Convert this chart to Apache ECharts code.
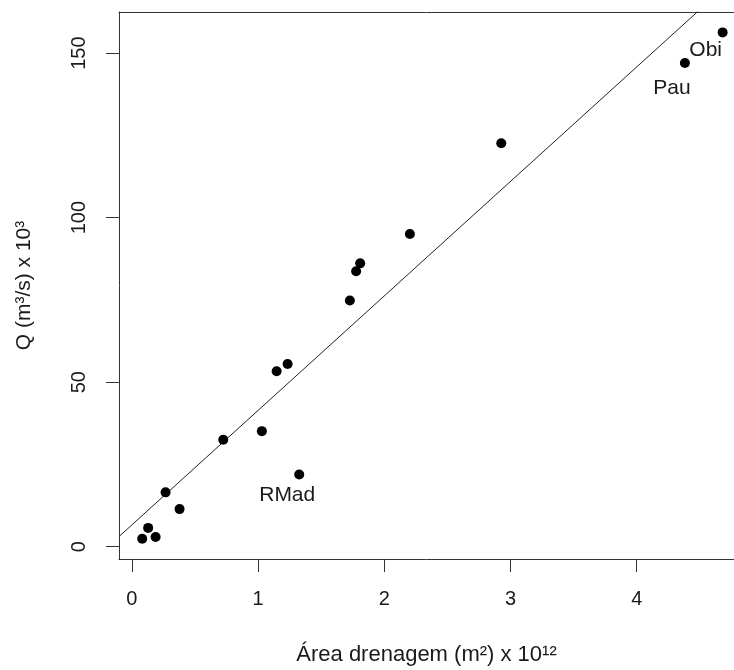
<!DOCTYPE html>
<html>
<head>
<meta charset="utf-8">
<script src="https://cdn.jsdelivr.net/npm/echarts@6/dist/echarts.min.js"></script>
<style>
html,body{margin:0;padding:0;background:#fff;overflow:hidden;}
#chart{width:734px;height:670px;}
</style>
</head>
<body>
<div id="chart"></div>
<script>
// Data
var areas = [0.082, 0.129, 0.188, 0.267, 0.378, 0.724, 1.030, 1.147, 1.234, 1.326, 1.727, 1.777, 1.809, 2.203, 2.927, 4.382, 4.681];
var flows = [2.4, 5.7, 2.9, 16.5, 11.4, 32.5, 35.1, 53.3, 55.5, 21.9, 74.8, 83.7, 86.1, 95.0, 122.6, 147.0, 156.3];
var pointNames = ['', '', '', '', '', '', '', '', '', 'RMad', '', '', '', '', '', 'Pau', 'Obi'];
var xTicks = [0, 1, 2, 3, 4];
var yTicks = [0, 50, 100, 150];
var fitIntercept = 6.6;
var fitSlope = 34.8;
// visible x range (the plot box of the original is cut off at the right edge of the image)
var xRange = [-0.102, 4.771];
var yRange = [-3.76, 162.5];

var labelOffsets = {
  'RMad': [-12, 21],
  'Pau': [-13, 25],
  'Obi': [-17, 18]
};

var FONT = 'Liberation Sans, Arial, sans-serif';
var TXT = '#1a1a1a';
var AX = '#333';

var points = areas.map(function (a, i) {
  var d = { value: [a, flows[i]] };
  var n = pointNames[i];
  if (n) {
    d.label = {
      show: true,
      formatter: n,
      position: 'inside',
      offset: labelOffsets[n],
      color: TXT,
      fontSize: 21,
      fontFamily: FONT
    };
  }
  return d;
});

var fitLine = xRange.map(function (x) { return [x, fitIntercept + fitSlope * x]; });

var chart = echarts.init(document.getElementById('chart'), null, { renderer: 'canvas' });
chart.setOption({
  animation: false,
  backgroundColor: '#fff',
  grid: {
    left: 119, top: 12, bottom: 111, right: 0,
    outerBoundsMode: 'none',
    containLabel: false,
    show: false
  },
  xAxis: [{
    type: 'value',
    position: 'bottom',
    min: xRange[0], max: xRange[1],
    name: 'Área drenagem (m²) x 10¹²',
    nameLocation: 'middle',
    nameGap: 85,
    nameTextStyle: { color: TXT, fontSize: 22, fontFamily: FONT },
    axisLine: { show: true, onZero: false, lineStyle: { color: AX, width: 1 } },
    splitLine: { show: false },
    axisTick: { show: true, inside: false, length: 13, customValues: xTicks, lineStyle: { color: AX, width: 1 } },
    axisLabel: { customValues: xTicks, color: TXT, fontSize: 20, fontFamily: FONT, margin: 30 }
  }, {
    type: 'value',
    position: 'top',
    min: xRange[0], max: xRange[1],
    axisLine: { show: true, onZero: false, lineStyle: { color: AX, width: 1 } },
    axisTick: { show: false },
    axisLabel: { show: false },
    splitLine: { show: false }
  }],
  yAxis: {
    type: 'value',
    min: yRange[0], max: yRange[1],
    name: 'Q (m³/s) x 10³',
    nameLocation: 'middle',
    nameRotate: 90,
    nameGap: 84,
    nameTextStyle: { color: TXT, fontSize: 21, fontFamily: FONT },
    axisLine: { show: true, onZero: false, lineStyle: { color: AX, width: 1 } },
    splitLine: { show: false },
    axisTick: { show: true, inside: false, length: 13, customValues: yTicks, lineStyle: { color: AX, width: 1 } },
    axisLabel: { customValues: yTicks, rotate: 90, color: TXT, fontSize: 20, fontFamily: FONT, margin: 30 }
  },
  series: [
    {
      type: 'line',
      data: fitLine,
      showSymbol: false,
      symbol: 'none',
      clip: true,
      lineStyle: { color: '#222', width: 1 },
      silent: true,
      z: 1
    },
    {
      type: 'scatter',
      data: points,
      symbol: 'circle',
      symbolSize: 10,
      itemStyle: { color: '#000', opacity: 1 },
      z: 2
    }
  ]
});
</script>
</body>
</html>
